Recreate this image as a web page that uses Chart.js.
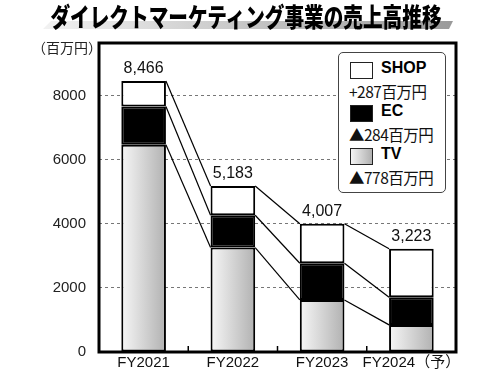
<!DOCTYPE html>
<html>
<head>
<meta charset="utf-8">
<script src="https://cdn.jsdelivr.net/npm/chart.js@4"></script>
<style>
  body { margin: 0; background: #fff; }
  #wrap { position: relative; width: 500px; height: 375px; overflow: hidden; font-family: "Liberation Sans", "Noto Sans CJK JP", sans-serif; }
  #chart { position: absolute; left: 0; top: 0; }
  #band { position: absolute; left: 43px; top: 21px; width: 410px; height: 8px;
    background: linear-gradient(to right, #f2f2f2, #9a9a9a);
    clip-path: polygon(8px 0, 100% 0, calc(100% - 4px) 100%, 0 100%); }
  #title { position: absolute; left: -104px; top: 1px; width: 700px; text-align: center;
    font-family: "Noto Sans CJK JP"; font-weight: 900; font-size: 26px; line-height: 30px; color: #000;
    transform: scaleX(0.755); transform-origin: 350px 0; white-space: nowrap; }
  #unit { position: absolute; left: 32px; top: 37px; font-family: "Noto Sans CJK JP"; font-size: 14px; color: #222; }
  #legend { position: absolute; left: 338px; top: 52px; width: 106px; height: 139px;
    border: 1.5px solid #444; border-radius: 5px; background: #fff; }
  .item { position: absolute; left: 11px; }
  .sw { position: absolute; left: 0; width: 21px; height: 15px; border: 1.5px solid #222; }
  .nm { position: absolute; left: 31px; top: -3px; font-family: "Liberation Sans", sans-serif; font-weight: bold; font-size: 16px; }
  .nt { position: absolute; left: -1px; top: 18px; font-family: "Noto Sans CJK JP"; font-size: 15.5px; white-space: nowrap; color: #111; letter-spacing: -0.5px; }
</style>
</head>
<body>
<div id="wrap">
  <canvas id="chart" width="500" height="375"></canvas>
  <div id="band"></div>
  <div id="title">ダイレクトマーケティング事業の売上高推移</div>
  <div id="unit">（百万円）</div>
  <div id="legend"></div>
</div>
<script>
const categories = ['FY2021', 'FY2022', 'FY2023', 'FY2024（予）'];
const tvValues = [6470, 3260, 1625, 847];
const ecValues = [1196, 1010, 1146, 862];
const shopValues = [800, 913, 1236, 1514];
const yTicks = [0, 2000, 4000, 6000, 8000];
const legendNames = ['SHOP', 'EC', 'TV'];
const legendNotes = ['+287百万円', '▲284百万円', '▲778百万円'];

const totals = categories.map((_, i) => tvValues[i] + ecValues[i] + shopValues[i]);

// Legend (html)
const legend = document.getElementById('legend');
const swatches = ['#fff', '#000', 'linear-gradient(to right, #f4f4f4, #b0b0b0)'];
legendNames.forEach((n, i) => {
    const it = document.createElement('div');
    it.className = 'item';
    it.style.top = (9 + i * 43) + 'px';
    it.innerHTML = '<div class="sw" style="background:' + swatches[i] + '"></div>' +
        '<div class="nm">' + n + '</div><div class="nt">' + legendNotes[i] + '</div>';
    legend.appendChild(it);
});

function tvFill(ctx) {
    const chart = ctx.chart;
    const x = chart.scales.x;
    if (!x) return '#ddd';
    const cx = x.getPixelForValue(ctx.dataIndex);
    if (!isFinite(cx)) return '#ddd';
    const g = chart.ctx.createLinearGradient(cx - 22, 0, cx + 22, 0);
    g.addColorStop(0, '#f6f6f6');
    g.addColorStop(1, '#b2b2b2');
    return g;
}

const extras = {
    id: 'extras',
    beforeDatasetsDraw(chart) {
        const c = chart.ctx;
        // connecting lines between segment tops
        c.save();
        c.strokeStyle = '#000';
        c.lineWidth = 1.2;
        chart.data.datasets.forEach((ds, d) => {
            const els = chart.getDatasetMeta(d).data;
            for (let i = 0; i < els.length - 1; i++) {
                const a = els[i], b = els[i + 1];
                c.beginPath();
                c.moveTo(a.x + a.width / 2, a.y);
                c.lineTo(b.x - b.width / 2, b.y);
                c.stroke();
            }
        });
        c.restore();
    },
    afterDatasetsDraw(chart) {
        const c = chart.ctx;
        const a = chart.chartArea;
        const x = chart.scales.x, y = chart.scales.y;
        c.save();
        // small ticks between categories
        c.strokeStyle = '#000';
        c.lineWidth = 1.5;
        for (let i = 0; i < categories.length - 1; i++) {
            const px = (x.getPixelForValue(i) + x.getPixelForValue(i + 1)) / 2;
            c.beginPath();
            c.moveTo(px, a.bottom);
            c.lineTo(px, a.bottom - 6);
            c.stroke();
        }
        // frame
        c.lineWidth = 3;
        c.strokeRect(a.left, a.top, a.right - a.left, a.bottom - a.top);
        // totals above bars
        c.fillStyle = '#111';
        c.font = '16px "Liberation Sans", sans-serif';
        c.textAlign = 'center';
        c.textBaseline = 'bottom';
        totals.forEach((t, i) => {
            c.fillText(t.toLocaleString('en-US'), x.getPixelForValue(i), y.getPixelForValue(t) - 4);
        });
        c.restore();
    }
};

new Chart(document.getElementById('chart'), {
    type: 'bar',
    data: {
        labels: categories,
        datasets: [
            { label: 'TV', data: tvValues, backgroundColor: tvFill },
            { label: 'EC', data: ecValues, backgroundColor: '#000' },
            { label: 'SHOP', data: shopValues, backgroundColor: '#fff' }
        ]
    },
    options: {
        responsive: false,
        animation: false,
        layout: { padding: { top: 43, right: 44, bottom: 0, left: 0 } },
        datasets: {
            bar: {
                borderColor: '#000',
                borderWidth: 2,
                borderSkipped: false,
                barPercentage: 0.5,
                categoryPercentage: 1
            }
        },
        plugins: { legend: { display: false }, tooltip: { enabled: false } },
        scales: {
            x: {
                stacked: true,
                grid: { display: false },
                border: { display: false },
                ticks: { color: '#111', padding: -6, maxRotation: 0, minRotation: 0, autoSkip: false,
                    font: { size: 15, family: '"Liberation Sans", "Noto Sans CJK JP", sans-serif' } },
                afterFit: s => { s.height = 23; }
            },
            y: {
                stacked: true,
                min: 0,
                max: 9650,
                grid: { color: ctx => ctx.tick.value === 0 ? 'rgba(0,0,0,0)' : '#777', lineWidth: 1, drawTicks: false },
                border: { display: false, dash: [3, 3] },
                afterBuildTicks: s => { s.ticks = yTicks.map(v => ({ value: v })); },
                ticks: { color: '#222', padding: 13, callback: v => String(v),
                    font: { size: 15, family: '"Liberation Sans", sans-serif' } },
                afterFit: s => { s.width = 99; }
            }
        }
    },
    plugins: [extras]
});
</script>
</body>
</html>
